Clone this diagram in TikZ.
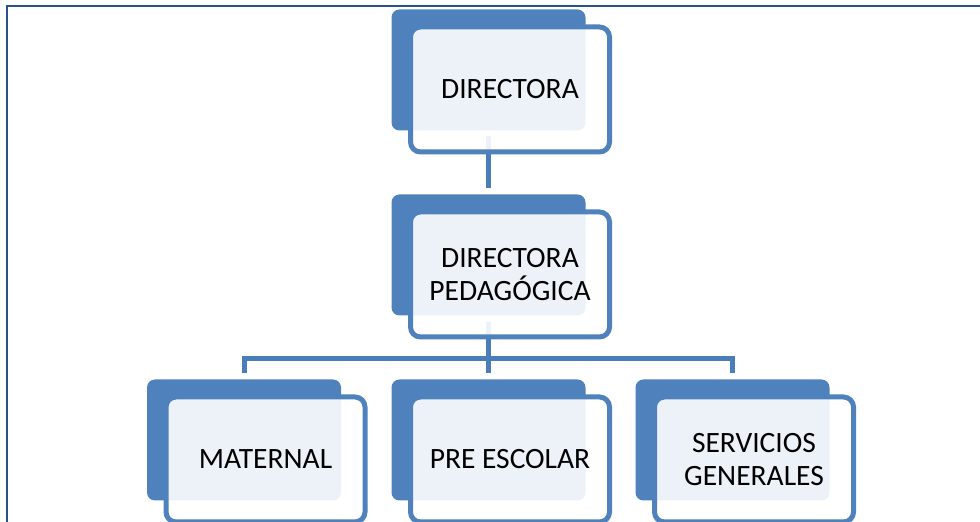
\documentclass[tikz,border=0pt]{standalone}
\usepackage{fontspec}
\setmainfont{Carlito}
\usetikzlibrary{positioning}
\usetikzlibrary{calc}
\definecolor{boxblue}{HTML}{4F81BD}
\definecolor{linkblue}{HTML}{4A7EBB}
\definecolor{frameblue}{HTML}{2B5189}
\providecommand*{\pgfmathsetnewmacro}[2]{%
    \newcommand*{#1}{}% Error if already defined
    \pgfmathsetmacro{#1}{#2}%
}

\begin{document}
\begin{tikzpicture}[x = 1pt, y = 1pt, line width = 5pt,
    backbox/.style = {fill = boxblue, rounded corners = 8pt,
                      minimum width = 194pt, minimum height = 121pt,
                      inner sep = 0pt, outer sep = 0pt},
    frontbox/.style = {draw = boxblue, fill = white, fill opacity = 0.9,
                       text opacity = 1, rounded corners = 10pt,
                       minimum width = 199pt, minimum height = 125pt,
                       inner sep = 0pt, outer sep = 0pt, align = center,
                       font = \fontsize{29.5}{33}\selectfont},
    link/.style = {draw = linkblue, line width = 5pt}]

\useasboundingbox (0,0) rectangle (980,522);

\pgfmathsetnewmacro{\dx}{21.5}
\pgfmathsetnewmacro{\dy}{-19.5}

% page frame
\draw[frameblue, line width = 2pt] (7,0) -- (7,515.5) -- (980,515.5);

\node[backbox] (dirback) at (488.5,452) {};
\node[backbox, below = 64pt of dirback] (pedback) {};
\node[backbox, below = 64pt of pedback] (preback) {};
\node[backbox, left = 50.5pt of preback] (matback) {};
\node[backbox, right = 50pt of preback] (serback) {};

\draw[link, shorten <= 6pt, shorten >= 6pt] (dirback) -- (pedback);
\draw[link, shorten <= 7pt, shorten >= 6pt] (pedback) -- (preback);
\draw[link, shorten <= 6pt, shorten >= 6pt] (matback.north) -- ++(0,21) -| (serback.north);

\foreach \NAME/\LABEL in {
                dir/DIRECTORA,
                ped/{DIRECTORA\\PEDAGÓGICA},
                mat/MATERNAL,
                pre/PRE ESCOLAR,
                ser/{SERVICIOS\\GENERALES}}{
    \node[frontbox] (\NAME front) at ([shift = {(\dx,\dy)}]\NAME back.center) {\LABEL};
    };

\end{tikzpicture}
\end{document}
